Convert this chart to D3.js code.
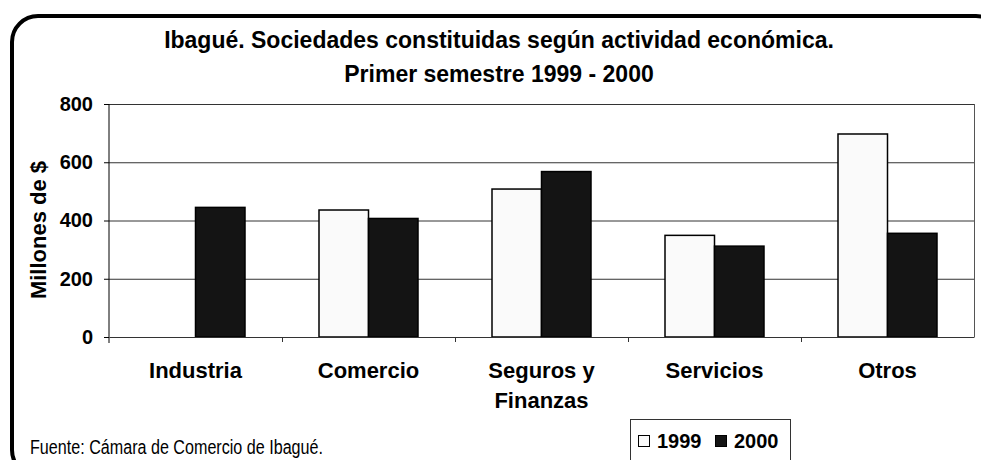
<!DOCTYPE html>
<html>
  <head>
    <title>Ibagué. Sociedades constituidas</title>
    <script src="https://d3js.org/d3.v7.min.js"></script>
    <style>
      body { margin: 0; background: #fff; }
      text { font-family: Arial, "Liberation Sans", sans-serif; }
    </style>
  </head>
  <body>
    <div id="chart"></div>

    <script>
      // data
      const categories = ["Industria", "Comercio", "Seguros y|Finanzas", "Servicios", "Otros"];
      const years = ["1999", "2000"];
      const values1999 = [0, 436, 508, 349, 697];
      const values2000 = [445, 407, 568, 312, 356];
      const yTicks = [0, 200, 400, 600, 800];

      const width = 981, height = 460;
      const margin = { top: 104, right: 7, bottom: 123, left: 109 };

      const svg = d3.select("#chart").append("svg")
        .attr("width", width).attr("height", height);

      // rounded outer frame
      svg.append("rect")
        .attr("x", 12).attr("y", 16)
        .attr("width", 990).attr("height", 460)
        .attr("rx", 26).attr("ry", 26)
        .attr("fill", "none").attr("stroke", "#000").attr("stroke-width", 4);

      const x0 = d3.scaleBand()
        .domain(categories)
        .range([margin.left, width - margin.right]);

      const x1 = d3.scaleBand()
        .domain(years)
        .range([0, 99]);

      const y = d3.scaleLinear()
        .domain([0, 800])
        .range([height - margin.bottom, margin.top]);

      // gridlines
      svg.append("g")
        .selectAll("line")
        .data(yTicks.slice(1))
        .enter().append("line")
        .attr("x1", margin.left).attr("x2", width - margin.right)
        .attr("y1", d => y(d) + 0.5).attr("y2", d => y(d) + 0.5)
        .attr("stroke", "#333").attr("stroke-width", 1);

      // right border of plot area
      svg.append("line")
        .attr("x1", width - margin.right + 0.5).attr("x2", width - margin.right + 0.5)
        .attr("y1", y(800)).attr("y2", y(0))
        .attr("stroke", "#555");

      // bars
      const groups = svg.append("g")
        .selectAll("g")
        .data(categories)
        .enter().append("g")
        .attr("transform", d => `translate(${x0(d) + (x0.bandwidth() - 99) / 2},0)`);

      groups.selectAll("rect")
        .data((d, i) => [
          { year: "1999", value: values1999[i] },
          { year: "2000", value: values2000[i] }
        ].filter(b => b.value > 0))
        .enter().append("rect")
        .attr("x", d => x1(d.year))
        .attr("y", d => y(d.value))
        .attr("width", x1.bandwidth())
        .attr("height", d => y(0) - y(d.value))
        .attr("fill", d => d.year === "1999" ? "#fafafa" : "#141414")
        .attr("stroke", "#000")
        .attr("stroke-width", 1.5);

      // y axis
      const yAxis = svg.append("g")
        .attr("transform", `translate(${margin.left},0)`)
        .call(d3.axisLeft(y).tickValues(yTicks).tickSize(5).tickPadding(11));
      yAxis.select(".domain").attr("stroke", "#000").attr("d", `M0,${y(800)}V${y(0) + 6}`);
      yAxis.selectAll("text")
        .style("font-size", "20px").style("font-weight", "bold").attr("fill", "#000");

      // x axis
      const xAxis = svg.append("g")
        .attr("transform", `translate(0,${y(0)})`)
        .call(d3.axisBottom(x0).tickSize(0).tickFormat(""));
      xAxis.select(".domain").attr("stroke", "#333");
      svg.append("g")
        .selectAll("line")
        .data(categories.slice(1))
        .enter().append("line")
        .attr("x1", d => x0(d) + 0.5).attr("x2", d => x0(d) + 0.5)
        .attr("y1", y(0)).attr("y2", y(0) + 5)
        .attr("stroke", "#333");

      // category labels
      const labels = svg.append("g")
        .selectAll("text")
        .data(categories)
        .enter().append("text")
        .attr("x", d => x0(d) + x0.bandwidth() / 2)
        .attr("y", 378)
        .attr("text-anchor", "middle")
        .style("font-size", "22px").style("font-weight", "bold");
      labels.selectAll("tspan")
        .data(d => d.split("|"))
        .enter().append("tspan")
        .attr("x", function () { return this.parentNode.getAttribute("x"); })
        .attr("dy", (d, i) => i === 0 ? 0 : 30)
        .text(d => d);

      // title
      svg.append("text")
        .attr("x", 499).attr("y", 48)
        .attr("text-anchor", "middle")
        .style("font-size", "23px").style("font-weight", "bold")
        .text("Ibagué. Sociedades constituidas según actividad económica.");
      svg.append("text")
        .attr("x", 499).attr("y", 82)
        .attr("text-anchor", "middle")
        .style("font-size", "23px").style("font-weight", "bold")
        .text("Primer semestre 1999 - 2000");

      // y axis title
      svg.append("text")
        .attr("transform", "translate(46,230) rotate(-90)")
        .attr("text-anchor", "middle")
        .style("font-size", "22px").style("font-weight", "bold")
        .text("Millones de $");

      // source
      svg.append("text")
        .attr("x", 30).attr("y", 454)
        .style("font-size", "20px")
        .attr("textLength", 293)
        .attr("lengthAdjust", "spacingAndGlyphs")
        .text("Fuente: Cámara de Comercio de Ibagué.");

      // legend
      const legend = svg.append("g");
      legend.append("rect")
        .attr("x", 630.5).attr("y", 419.5)
        .attr("width", 160).attr("height", 50)
        .attr("fill", "#fff").attr("stroke", "#333");
      const items = legend.selectAll("g")
        .data(years)
        .enter().append("g")
        .attr("transform", (d, i) => `translate(${638 + i * 77},0)`);
      items.append("rect")
        .attr("x", 0.5).attr("y", 435.5)
        .attr("width", 11).attr("height", 11)
        .attr("fill", d => d === "1999" ? "#fafafa" : "#141414")
        .attr("stroke", "#000");
      items.append("text")
        .attr("x", 19).attr("y", 448)
        .style("font-size", "20px").style("font-weight", "bold")
        .text(d => d);
    </script>
  </body>
</html>
